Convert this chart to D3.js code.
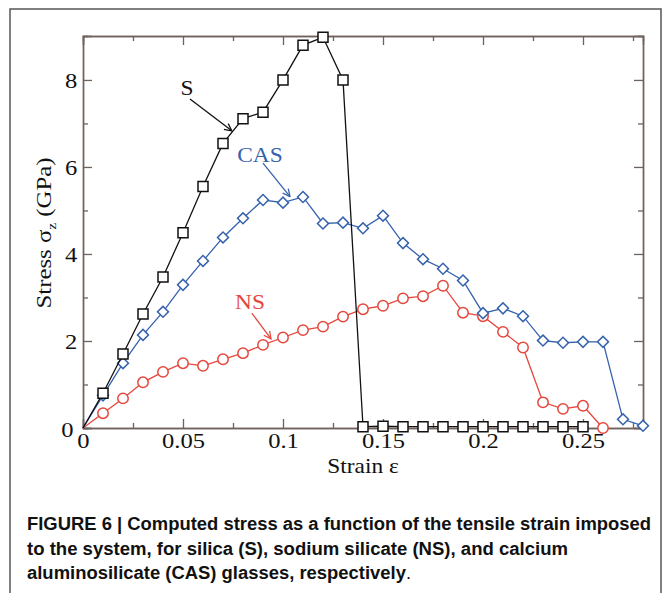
<!DOCTYPE html>
<html>
<head>
<meta charset="utf-8">
<title>Figure 6 - stress vs strain</title>
<script src="https://d3js.org/d3.v7.min.js"></script>
<style>
  body { margin: 0; background: #fff; }
  .tick-label { font: 21px "Liberation Serif", "Times New Roman", serif; fill: #111; }
  .axis-title { font: 20px "Liberation Serif", "Times New Roman", serif; fill: #111; }
  .caption { font-family: "Liberation Sans", Arial, sans-serif;
             font-weight: bold; font-size: 18px; fill: #111; }
</style>
</head>
<body>
<div id="chart"></div>
<script>
// strain values (x) and stress values (y, GPa)
var strainS = [0, 0.01, 0.02, 0.03, 0.04, 0.05, 0.06, 0.07, 0.08, 0.09, 0.10, 0.11, 0.12, 0.13,
               0.14, 0.15, 0.16, 0.17, 0.18, 0.19, 0.20, 0.21, 0.22, 0.23, 0.24, 0.25];
var stressS = [0, 0.80, 1.70, 2.62, 3.47, 4.49, 5.55, 6.54, 7.11, 7.26, 8.00, 8.80, 8.98, 8.00,
               0.03, 0.04, 0.03, 0.03, 0.03, 0.03, 0.03, 0.03, 0.03, 0.03, 0.03, 0.03];

var strainCAS = [0, 0.01, 0.02, 0.03, 0.04, 0.05, 0.06, 0.07, 0.08, 0.09, 0.10, 0.11, 0.12, 0.13, 0.14,
                 0.15, 0.16, 0.17, 0.18, 0.19, 0.20, 0.21, 0.22, 0.23, 0.24, 0.25, 0.26, 0.27, 0.28];
var stressCAS = [0, 0.75, 1.49, 2.14, 2.67, 3.29, 3.84, 4.38, 4.82, 5.24, 5.18, 5.31, 4.70, 4.72, 4.59,
                 4.88, 4.25, 3.88, 3.66, 3.39, 2.64, 2.75, 2.57, 2.01, 1.96, 1.98, 1.98, 0.20, 0.05];

var strainNS = [0, 0.01, 0.02, 0.03, 0.04, 0.05, 0.06, 0.07, 0.08, 0.09, 0.10, 0.11, 0.12, 0.13,
                0.14, 0.15, 0.16, 0.17, 0.18, 0.19, 0.20, 0.21, 0.22, 0.23, 0.24, 0.25, 0.26];
var stressNS = [0, 0.34, 0.68, 1.05, 1.29, 1.49, 1.43, 1.58, 1.72, 1.91, 2.08, 2.25, 2.33, 2.56,
                2.73, 2.81, 2.98, 3.03, 3.27, 2.65, 2.57, 2.21, 1.85, 0.59, 0.44, 0.51, 0.00];

var xTicks = [0, 0.05, 0.1, 0.15, 0.2, 0.25];
var xTickLabels = ["0", "0.05", "0.1", "0.15", "0.2", "0.25"];
var xMinor = [0.025, 0.075, 0.125, 0.175, 0.225, 0.275];
var yTicks = [0, 2, 4, 6, 8];
var yMinor = [1, 3, 5, 7];

// annotation labels and their arrows, in data units
var noteText = ["S", "CAS", "NS"];
var noteLabel = [[0.052, 7.82], [0.0885, 6.28], [0.0835, 2.90]];
var noteFrom = [[0.0535, 7.56], [0.090, 6.09], [0.0844, 2.64]];
var noteTo = [[0.0744, 6.83], [0.1035, 5.32], [0.0940, 2.05]];

var captionLines = [
  "FIGURE 6 | Computed stress as a function of the tensile strain imposed",
  "to the system, for silica (S), sodium silicate (NS), and calcium",
  "aluminosilicate (CAS) glasses, respectively"
];
var captionWidths = [624, 541, 379];

var W = 671, H = 593;
var black = "#111", blue = "#3562ad", red = "#e6473d", frameCol = "#6f625b";
var stretch = 1.17;   // the original figure's lettering is a bit wide

var svg = d3.select("#chart").append("svg")
    .attr("width", W).attr("height", H);

// outer figure border
svg.append("rect")
    .attr("x", 10).attr("y", 9).attr("width", 651).attr("height", 600)
    .attr("fill", "none").attr("stroke", "#555").attr("stroke-width", 1.5);

var pLeft = 83, pRight = 643, pTop = 36, pBottom = 428;

var x = d3.scaleLinear().domain([0, 0.28]).range([pLeft, pRight]);
var y = d3.scaleLinear().domain([0, 9.01]).range([pBottom, pTop]);

// ticks on all four sides, pointing inward
var bottomAxis = d3.axisBottom(x).tickValues(xTicks).tickSize(-9).tickFormat(function(d, i) { return xTickLabels[i]; });
var topAxis = d3.axisTop(x).tickValues(xTicks).tickSize(-9).tickFormat("");
var leftAxis = d3.axisLeft(y).tickValues(yTicks).tickSize(-9).tickFormat(d3.format("d"));
var rightAxis = d3.axisRight(y).tickValues(yTicks).tickSize(-9).tickFormat("");

var gB = svg.append("g").attr("transform", "translate(0," + pBottom + ")").call(bottomAxis);
svg.append("g").attr("transform", "translate(0," + pBottom + ")")
   .call(d3.axisBottom(x).tickValues(xMinor).tickSize(-5).tickFormat(""));
svg.append("g").attr("transform", "translate(0," + pTop + ")").call(topAxis);
svg.append("g").attr("transform", "translate(0," + pTop + ")")
   .call(d3.axisTop(x).tickValues(xMinor).tickSize(-5).tickFormat(""));
var gL = svg.append("g").attr("transform", "translate(" + pLeft + ",0)").call(leftAxis);
svg.append("g").attr("transform", "translate(" + pLeft + ",0)")
   .call(d3.axisLeft(y).tickValues(yMinor).tickSize(-5).tickFormat(""));
svg.append("g").attr("transform", "translate(" + pRight + ",0)").call(rightAxis);
svg.append("g").attr("transform", "translate(" + pRight + ",0)")
   .call(d3.axisRight(y).tickValues(yMinor).tickSize(-5).tickFormat(""));

svg.selectAll(".domain").attr("stroke", frameCol).attr("stroke-width", 1.4);
svg.selectAll(".tick line").attr("stroke", frameCol).attr("stroke-width", 1.3);

gB.selectAll(".tick text").attr("class", "tick-label").attr("y", 5).attr("dy", "0.71em")
  .attr("transform", "scale(" + stretch + ",1)");
gL.selectAll(".tick text").attr("class", "tick-label").attr("x", -5).attr("dy", "0.36em")
  .attr("transform", "scale(" + stretch + ",1)");
// the y "0" sits a bit lower and left of the x "0"
gL.selectAll(".tick text").filter(function(d) { return d === 0; }).attr("x", -8).attr("dy", "0.42em");

// series
function series(xs, ys, col, shape) {
  var pts = xs.map(function(v, i) { return [v, ys[i]]; });
  var line = d3.line().x(function(d) { return x(d[0]); }).y(function(d) { return y(d[1]); });
  svg.append("path").datum(pts)
     .attr("d", line).attr("fill", "none").attr("stroke", col).attr("stroke-width", 1.3);
  var sym = d3.symbol().type(shape === "circle" ? d3.symbolCircle : d3.symbolSquare)
              .size(shape === "circle" ? 85 : (shape === "diamond" ? 60 : 100));
  svg.append("g").selectAll("path")
     .data(pts.slice(1))
     .enter().append("path")
     .attr("d", sym)
     .attr("transform", function(d) {
       return "translate(" + x(d[0]) + "," + y(d[1]) + ")" + (shape === "diamond" ? " rotate(45)" : "");
     })
     .attr("fill", "#fff").attr("stroke", col).attr("stroke-width", 1.5);
}

series(strainNS, stressNS, red, "circle");
series(strainCAS, stressCAS, blue, "diamond");
series(strainS, stressS, black, "square");

// annotations with arrows
var noteCols = [black, blue, red];
var defs = svg.append("defs");
noteCols.forEach(function(c, i) {
  defs.append("marker")
      .attr("id", "arrow" + i)
      .attr("viewBox", "0 0 10 10").attr("refX", 9).attr("refY", 5)
      .attr("markerWidth", 9).attr("markerHeight", 9).attr("orient", "auto")
      .attr("markerUnits", "userSpaceOnUse")
    .append("path").attr("d", "M1,1 L9,5 L1,9")
      .attr("fill", "none").attr("stroke", c).attr("stroke-width", 1.4);
});
noteText.forEach(function(t, i) {
  svg.append("line")
     .attr("x1", x(noteFrom[i][0])).attr("y1", y(noteFrom[i][1]))
     .attr("x2", x(noteTo[i][0])).attr("y2", y(noteTo[i][1]))
     .attr("stroke", noteCols[i]).attr("stroke-width", 1.3)
     .attr("marker-end", "url(#arrow" + i + ")");
  svg.append("text").attr("class", "axis-title")
     .attr("transform", "translate(" + x(noteLabel[i][0]) + "," + y(noteLabel[i][1]) + ") scale(" + stretch + ",1)")
     .attr("text-anchor", "middle").attr("dy", "0.35em")
     .style("fill", noteCols[i])
     .text(t);
});

// axis titles
svg.append("text").attr("class", "axis-title")
   .attr("transform", "translate(363,473) scale(" + stretch + ",1)").attr("text-anchor", "middle")
   .text("Strain ε");

var yt = svg.append("text").attr("class", "axis-title").style("font-size", "21px")
   .attr("transform", "translate(51,233) rotate(-90) scale(" + (stretch + 0.01) + ",1)").attr("text-anchor", "middle");
yt.append("tspan").text("Stress σ");
yt.append("tspan").attr("dy", 5).attr("font-size", 13).text("z");
yt.append("tspan").attr("dy", -5).text(" (GPa)");

// caption (narrow bold face approximated by squeezing to the reference line widths)
captionLines.forEach(function(l, i) {
  var t = svg.append("text").attr("class", "caption")
     .attr("x", 27).attr("y", 530 + i * 24.5);
  t.append("tspan").attr("textLength", captionWidths[i]).attr("lengthAdjust", "spacingAndGlyphs").text(l);
  if (i === 2) t.append("tspan").attr("font-weight", "normal").text(".");
});
</script>
</body>
</html>
